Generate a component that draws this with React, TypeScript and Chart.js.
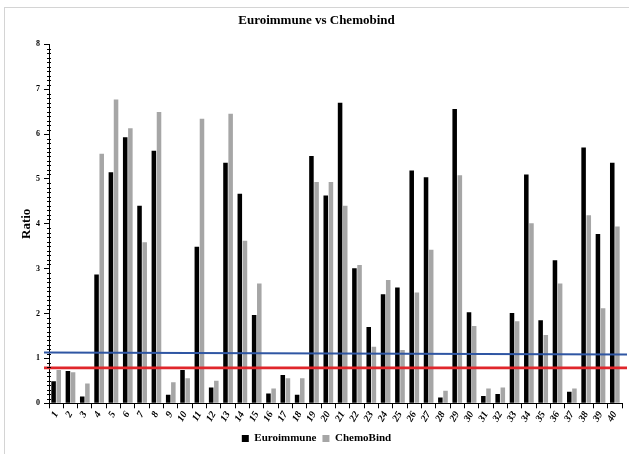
import React, { useEffect, useRef } from "react";
import { Chart, registerables } from "chart.js";

Chart.register(...registerables);

const categories = [
  "1", "2", "3", "4", "5", "6", "7", "8", "9", "10",
  "11", "12", "13", "14", "15", "16", "17", "18", "19", "20",
  "21", "22", "23", "24", "25", "26", "27", "28", "29", "30",
  "31", "32", "33", "34", "35", "36", "37", "38", "39", "40",
];

const euroimmune = [
  0.49, 0.72, 0.15, 2.87, 5.15, 5.93, 4.40, 5.63, 0.19, 0.74,
  3.49, 0.35, 5.36, 4.67, 1.97, 0.22, 0.63, 0.19, 5.51, 4.63,
  6.70, 3.01, 1.70, 2.43, 2.58, 5.19, 5.04, 0.13, 6.56, 2.03,
  0.16, 0.21, 2.01, 5.10, 1.85, 3.19, 0.26, 5.70, 3.77, 5.36,
];

const chemoBind = [
  0.74, 0.69, 0.44, 5.56, 6.77, 6.13, 3.59, 6.49, 0.47, 0.56,
  6.34, 0.50, 6.45, 3.62, 2.67, 0.33, 0.56, 0.56, 4.93, 4.93,
  4.40, 3.08, 1.26, 2.75, 1.19, 2.47, 3.42, 0.28, 5.08, 1.72,
  0.33, 0.35, 1.83, 4.01, 1.52, 2.67, 0.33, 4.19, 2.12, 3.94,
];

const yTicks = [0, 1, 2, 3, 4, 5, 6, 7, 8];

// reference lines (value at left end, value at right end)
const blueLine = [1.13, 1.09];
const redLine = [0.79, 0.79];

const FONT = "'Liberation Serif', 'Times New Roman', serif";

const refLinesPlugin = {
  id: "refLines",
  afterDatasetsDraw(chart: any) {
    const { ctx, chartArea, scales } = chart;
    const y = scales.y;
    const x0 = chartArea.left - 5;
    const x1 = chartArea.right + 5;
    ctx.save();
    ctx.lineCap = "butt";
    ctx.strokeStyle = "#2f56a3";
    ctx.lineWidth = 2;
    ctx.beginPath();
    ctx.moveTo(x0, y.getPixelForValue(blueLine[0]));
    ctx.lineTo(x1, y.getPixelForValue(blueLine[1]));
    ctx.stroke();
    ctx.strokeStyle = "#e0262b";
    ctx.lineWidth = 2.6;
    ctx.beginPath();
    ctx.moveTo(x0, y.getPixelForValue(redLine[0]));
    ctx.lineTo(x1, y.getPixelForValue(redLine[1]));
    ctx.stroke();
    ctx.restore();
  },
  afterDraw(chart: any) {
    const { ctx, chartArea, scales } = chart;
    const y = scales.y;
    const ax = chartArea.left;
    ctx.save();
    ctx.strokeStyle = "#000";
    ctx.lineWidth = 1;
    ctx.beginPath();
    const max = yTicks[yTicks.length - 1];
    for (let i = 1; i < max * 10; i++) {
      if (i % 10 === 0) continue;
      const py = Math.round(y.getPixelForValue(i / 10)) + 0.5;
      ctx.moveTo(ax - 2, py);
      ctx.lineTo(ax + 2, py);
    }
    ctx.stroke();
    ctx.restore();
  },
};

export default function App() {
  const canvasRef = useRef<HTMLCanvasElement | null>(null);

  useEffect(() => {
    if (!canvasRef.current) return;
    const chart = new Chart(canvasRef.current, {
      type: "bar",
      data: {
        labels: categories,
        datasets: [
          {
            label: "Euroimmune",
            data: euroimmune,
            backgroundColor: "#000000",
            borderWidth: 0,
            categoryPercentage: 0.72,
            barPercentage: 0.88,
          },
          {
            label: "ChemoBind",
            data: chemoBind,
            backgroundColor: "#a6a6a6",
            borderWidth: 0,
            categoryPercentage: 0.72,
            barPercentage: 0.88,
          },
        ],
      },
      options: {
        responsive: false,
        animation: false,
        layout: { padding: { left: 11, right: 7, top: 0, bottom: 0 } },
        plugins: {
          title: {
            display: true,
            text: "Euroimmune vs Chemobind",
            color: "#000",
            font: { family: FONT, size: 13, weight: "bold" },
            padding: { top: 13, bottom: 15.7 },
          },
          legend: {
            display: true,
            position: "bottom",
            labels: {
              color: "#000",
              font: { family: FONT, size: 11, weight: "bold" },
              boxWidth: 7,
              boxHeight: 7,
              padding: 6,
            },
          },
          tooltip: { enabled: false },
        },
        scales: {
          x: {
            grid: {
              display: true,
              offset: true,
              drawOnChartArea: false,
              drawTicks: true,
              tickLength: 5,
              color: "#000",
            },
            border: { display: true, color: "#000", width: 1 },
            ticks: {
              color: "#000",
              font: { family: FONT, size: 10, weight: "bold", style: "italic" },
              maxRotation: 60,
              minRotation: 60,
              autoSkip: false,
              padding: 1,
            },
            afterFit(scale: any) {
              scale.height = 23.7;
            },
          },
          y: {
            min: 0,
            max: 8,
            grid: {
              display: true,
              drawOnChartArea: false,
              drawTicks: true,
              tickLength: 5,
              color: "#000",
            },
            border: { display: true, color: "#000", width: 1 },
            ticks: {
              stepSize: 1,
              color: "#000",
              font: { family: FONT, size: 8, weight: "bold" },
              padding: 4,
            },
            title: {
              display: true,
              text: "Ratio",
              color: "#000",
              font: { family: FONT, size: 13, weight: "bold" },
              padding: { top: 8, bottom: 0 },
            },
            afterFit(scale: any) {
              scale.width = 38;
            },
          },
        },
      },
      plugins: [refLinesPlugin],
    });
    return () => chart.destroy();
  }, []);

  return (
    <div
      style={{
        position: "fixed",
        left: 0,
        top: 0,
        width: 629,
        height: 454,
        background: "#fff",
        overflow: "hidden",
      }}
    >
      <div
        style={{
          position: "absolute",
          left: 4,
          top: 7,
          right: -2,
          bottom: -2,
          borderTop: "1px solid #d4d4d4",
          borderLeft: "1px solid #d4d4d4",
        }}
      />
      <canvas
        ref={canvasRef}
        width={629}
        height={454}
        style={{ position: "absolute", left: 0, top: 0, display: "block" }}
      />
    </div>
  );
}
